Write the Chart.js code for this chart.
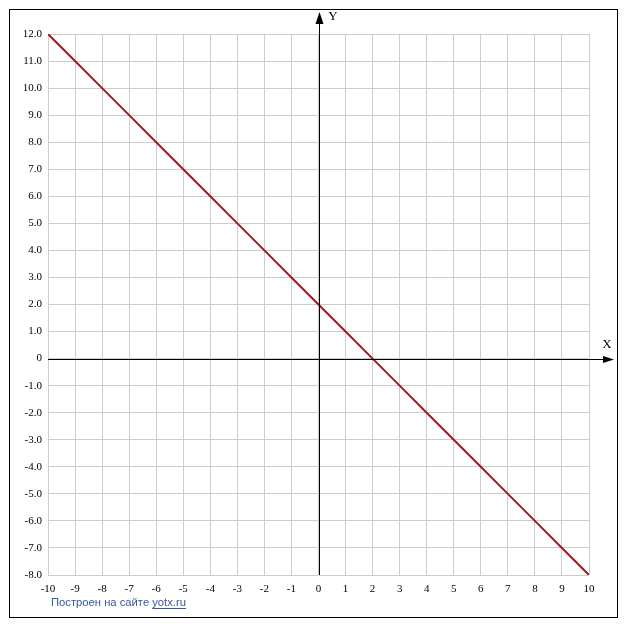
<!DOCTYPE html>
<html>
<head>
<meta charset="utf-8">
<script src="https://cdn.jsdelivr.net/npm/chart.js@4/dist/chart.umd.min.js"></script>
<style>
html,body{margin:0;padding:0;background:#fff;}
#wrap{position:relative;width:627px;height:630px;}
</style>
</head>
<body>
<div id="wrap"><canvas id="c" width="627" height="630"></canvas></div>
<script>
const xValues = [-10,-9,-8,-7,-6,-5,-4,-3,-2,-1,0,1,2,3,4,5,6,7,8,9,10];
const yValues = [12,11,10,9,8,7,6,5,4,3,2,1,0,-1,-2,-3,-4,-5,-6,-7,-8];
const xTickLabels = ['-10','-9','-8','-7','-6','-5','-4','-3','-2','-1','0','1','2','3','4','5','6','7','8','9','10'];
const yTickLabels = ['12.0','11.0','10.0','9.0','8.0','7.0','6.0','5.0','4.0','3.0','2.0','1.0','0','-1.0','-2.0','-3.0','-4.0','-5.0','-6.0','-7.0','-8.0'];
const yTickValues = [12,11,10,9,8,7,6,5,4,3,2,1,0,-1,-2,-3,-4,-5,-6,-7,-8];
const axisNames = {x:'X', y:'Y'};
const footerText = 'Построен на сайте ';
const footerLink = 'yotx.ru';

const points = xValues.map((x,i)=>({x:x,y:yValues[i]}));

const decor = {
  id:'decor',
  beforeDraw(chart){
    const ctx = chart.ctx;
    ctx.save();
    ctx.fillStyle = '#fff';
    ctx.fillRect(0,0,chart.width,chart.height);
    ctx.restore();
  },
  afterDatasetsDraw(chart){
    const ctx = chart.ctx;
    const xs = chart.scales.x, ys = chart.scales.y;
    const ca = chart.chartArea;
    const x0 = Math.round(xs.getPixelForValue(0)) + 0.5;
    const y0 = Math.round(ys.getPixelForValue(0)) + 0.5;
    ctx.save();
    ctx.strokeStyle = '#000';
    ctx.fillStyle = '#000';
    ctx.lineWidth = 1;
    // Y axis
    ctx.beginPath();
    ctx.moveTo(x0, ca.bottom);
    ctx.lineTo(x0, 20);
    ctx.stroke();
    ctx.beginPath();
    ctx.moveTo(x0, 12);
    ctx.lineTo(x0-4, 24);
    ctx.lineTo(x0+4, 24);
    ctx.closePath();
    ctx.fill();
    // X axis
    ctx.beginPath();
    ctx.moveTo(ca.left, y0);
    ctx.lineTo(606, y0);
    ctx.stroke();
    ctx.beginPath();
    ctx.moveTo(614, y0);
    ctx.lineTo(603, y0-3.5);
    ctx.lineTo(603, y0+3.5);
    ctx.closePath();
    ctx.fill();
    // axis names
    ctx.font = '13px "Liberation Serif", "Times New Roman", serif';
    ctx.textAlign = 'center';
    ctx.textBaseline = 'middle';
    ctx.fillText(axisNames.y, 333, 17);
    ctx.fillText(axisNames.x, 607, 345);
    // footer
    let fs = 12;
    const fam = 'px "Liberation Sans", Arial, sans-serif';
    ctx.font = fs + fam;
    const full = ctx.measureText(footerText + footerLink).width;
    fs = fs * 135 / full;
    ctx.font = fs.toFixed(2) + fam;
    ctx.textAlign = 'left';
    ctx.fillStyle = '#36599a';
    ctx.textBaseline = 'alphabetic';
    const fx = 51, fy = 606;
    ctx.fillText(footerText, fx, fy);
    const w1 = ctx.measureText(footerText).width;
    ctx.fillText(footerLink, fx + w1, fy);
    const w2 = ctx.measureText(footerLink).width;
    ctx.strokeStyle = '#36599a';
    ctx.beginPath();
    ctx.moveTo(fx + w1, fy + 2.5);
    ctx.lineTo(fx + w1 + w2, fy + 2.5);
    ctx.stroke();
    // frame
    ctx.strokeStyle = '#000';
    ctx.lineWidth = 1;
    ctx.strokeRect(9.5, 9.5, 608, 608);
    ctx.restore();
  }
};

new Chart(document.getElementById('c'), {
  type:'scatter',
  data:{datasets:[{
    data:points,
    showLine:true,
    borderColor:'#a3191c',
    borderWidth:2,
    pointRadius:0,
    fill:false,
    tension:0
  }]},
  options:{
    responsive:false,
    animation:false,
    devicePixelRatio:1,
    layout:{padding:{left:8,top:34,right:38,bottom:35}},
    plugins:{legend:{display:false},tooltip:{enabled:false}},
    scales:{
      x:{
        type:'linear', min:-10, max:10,
        afterFit(s){ s.height = 20; },
        afterBuildTicks(s){ s.ticks = xValues.map(v=>({value:v})); },
        border:{display:false},
        grid:{color:'#cccccc', lineWidth:1, drawTicks:false},
        ticks:{
          padding:8,
          color:'#000',
          font:{family:'"Liberation Serif", "Times New Roman", serif', size:11},
          maxRotation:0, autoSkip:false,
          callback(v){ const i = xValues.indexOf(v); return i>=0 ? xTickLabels[i] : ''; }
        }
      },
      y:{
        type:'linear', min:-8, max:12,
        afterFit(s){ s.width = 40; },
        afterBuildTicks(s){ s.ticks = yTickValues.map(v=>({value:v})); },
        border:{display:false},
        grid:{color:'#cccccc', lineWidth:1, drawTicks:false},
        ticks:{
          padding:6,
          color:'#000',
          font:{family:'"Liberation Serif", "Times New Roman", serif', size:11},
          autoSkip:false,
          callback(v){ const i = yTickValues.indexOf(v); return i>=0 ? yTickLabels[i] : ''; }
        }
      }
    }
  },
  plugins:[decor]
});
</script>
</body>
</html>
